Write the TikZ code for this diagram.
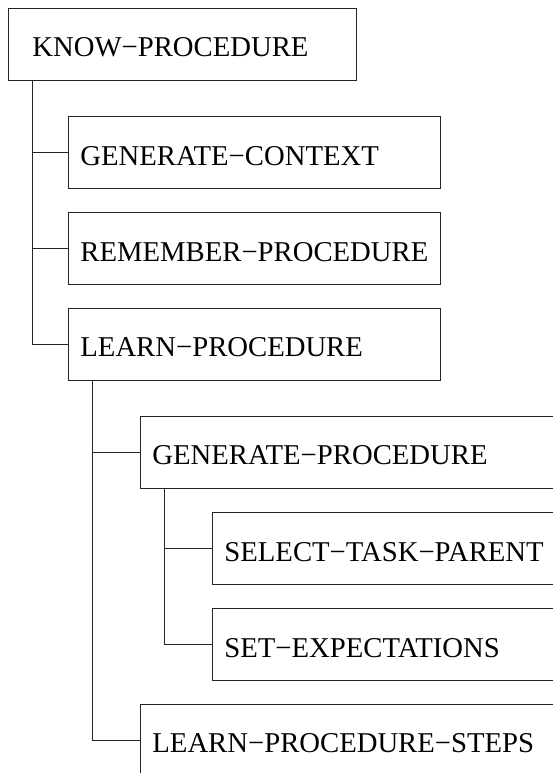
\documentclass[tikz,border=0pt]{standalone}
\usepackage{fontspec}
\setmainfont{Liberation Serif}
\begin{document}
\begin{tikzpicture}[x=1pt, y=-1pt,
  proc/.style={draw=black!85, line width=0.9pt, minimum height=72pt, text height=25pt, text depth=0pt, align=left, font=\fontsize{28.7}{34}\selectfont, anchor=west},
  root/.style={proc, text width=300pt, inner xsep=24pt},
  sub/.style={proc, text width=348pt, inner xsep=12pt},
  deep/.style={proc, text width=416pt, inner xsep=12pt},
  line/.style={draw=black!85, line width=0.9pt}
]
\path[use as bounding box, clip] (0,0) rectangle (553,773);
\node[root] (know) at (8,44.5) {KNOW−PROCEDURE};
\node[sub] (genctx) at (68,152.5) {GENERATE−CONTEXT};
\node[sub] (remproc) at (68,248.5) {REMEMBER−PROCEDURE};
\node[sub] (learnproc) at (68,344) {LEARN−PROCEDURE};
\node[deep] (genproc) at (140,452) {GENERATE−PROCEDURE};
\node[deep] (seltask) at (212,548.5) {SELECT−TASK−PARENT};
\node[deep] (setexp) at (212,644.5) {SET−EXPECTATIONS};
\node[deep] (steps) at (140,740) {LEARN−PROCEDURE−STEPS};

\draw[line] (know.south west) ++(24,0) |- (genctx.west);
\draw[line] (know.south west) ++(24,0) |- (remproc.west);
\draw[line] (know.south west) ++(24,0) |- (learnproc.west);
\draw[line] (learnproc.south west) ++(24,0) |- (genproc.west);
\draw[line] (learnproc.south west) ++(24,0) |- (steps.west);
\draw[line] (genproc.south west) ++(24,0) |- (seltask.west);
\draw[line] (genproc.south west) ++(24,0) |- (setexp.west);
\end{tikzpicture}
\end{document}
